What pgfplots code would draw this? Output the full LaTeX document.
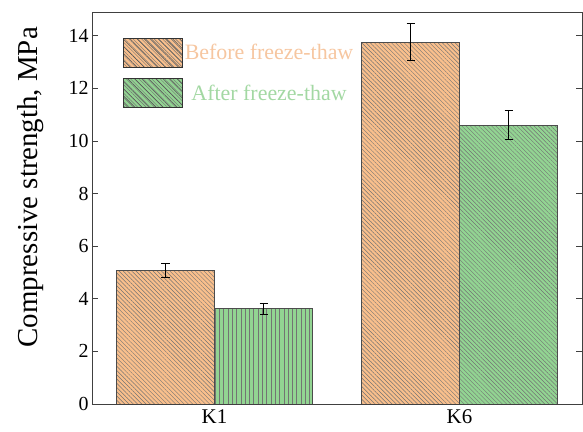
\documentclass[border=0pt]{standalone}
\usepackage{fontspec}
\setmainfont{Liberation Serif}
\usepackage{pgfplots}
\pgfplotsset{compat=1.18}
\usetikzlibrary{patterns.meta}
\definecolor{orf}{HTML}{F9BF8C}
\definecolor{grf}{HTML}{92D492}
\definecolor{ort}{HTML}{F6C6A0}
\definecolor{grt}{HTML}{A3D8A3}
\pgfplotsset{
 legor/.style={legend image code/.code={\draw[draw=black!80, line width=0.7bp, fill=orf, postaction={pattern={Lines[angle=-45,distance=5bp,line width=0.6bp]}, pattern color=black!65}] (0bp,-14.5bp) rectangle (59bp,14.5bp);}},
 leggr/.style={legend image code/.code={\draw[draw=black!80, line width=0.7bp, fill=grf, postaction={pattern={Lines[angle=-45,distance=5bp,line width=0.6bp]}, pattern color=black!65}] (0bp,-14.5bp) rectangle (59bp,14.5bp);}},
 myerr/.style={error bars/.cd, y dir=both, y explicit,
   error bar style={line width=1bp, black},
   error mark options={rotate=90, mark size=4bp, line width=1bp, black}},
}
\begin{document}
\begin{tikzpicture}
\begin{axis}[
 scale only axis, width=490bp, height=392bp,
 xmin=-0.5, xmax=1.5, ymin=0, ymax=14.9,
 xtick={0,1}, xticklabels={K1,K6},
 ytick={0,2,4,6,8,10,12,14},
 tick align=inside,
 major tick length=6bp,
 x tick style={draw=none},
 axis line style={line width=0.8bp, black!75},
 y tick style={line width=0.8bp, black!75},
 ylabel={Compressive strength, MPa},
 ylabel style={at={(axis description cs:-0.125,0.553)}, anchor=center, font=\fontsize{29}{32}\selectfont},
 yticklabel style={font=\fontsize{20}{24}\selectfont},
 xticklabel style={yshift=-2bp, font=\fontsize{21}{24}\selectfont},
 /pgf/number format/assume math mode=true,
 legend style={draw=none, fill=none, at={(axis description cs:0.063,0.934)}, anchor=north west,
   row sep=10.5bp, font=\fontsize{22}{26}\selectfont, inner sep=0pt},
 legend cell align=center,
]
\addplot[ybar, bar width=0.4, bar shift=0, fill=orf, draw=black!70, line width=0.6bp,
  postaction={pattern={Lines[angle=-45,distance=3bp,line width=0.45bp]}, pattern color=black!55},
  legor, myerr]
  coordinates {(-0.2,5.07) +- (0,0.27) (0.8,13.75) +- (0,0.70)};
\addlegendentry{\textcolor{ort}{Before freeze-thaw}}
\addplot[ybar, bar width=0.4, bar shift=0, fill=grf, draw=black!70, line width=0.6bp,
  postaction={pattern={Lines[angle=-45,distance=3bp,line width=0.45bp]}, pattern color=black!55},
  leggr, myerr]
  coordinates {(1.2,10.60) +- (0,0.55)};
\addlegendentry{\textcolor{grt}{After freeze-thaw}}
\addplot[ybar, bar width=0.4, bar shift=0, fill=grf, draw=black!70, line width=0.6bp,
  postaction={pattern={Lines[angle=90,distance=4.3bp,line width=0.45bp]}, pattern color=black!55},
  forget plot, myerr]
  coordinates {(0.2,3.62) +- (0,0.21)};
\end{axis}
\path (-92bp,-28bp) rectangle (491bp,404bp);
\end{tikzpicture}
\end{document}
